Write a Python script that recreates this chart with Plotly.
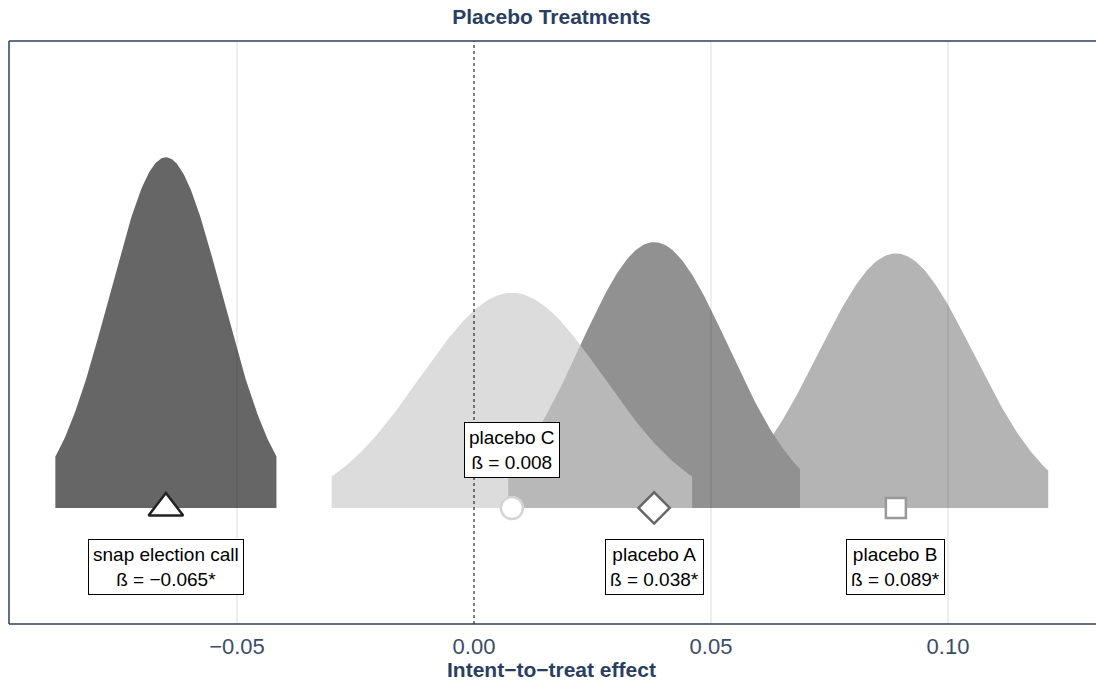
import numpy as np
import plotly.graph_objects as go

# ---- data ----
labels = ["placebo B", "placebo A", "snap election call", "placebo C"]
estimates = [0.089, 0.038, -0.065, 0.008]
std_errors = [0.0164, 0.0157, 0.0119, 0.0194]
stars = ["*", "*", "*", ""]
x_ticks = [-0.05, 0.00, 0.05, 0.10]
x_tick_labels = ["\u22120.05", "0.00", "0.05", "0.10"]

# ---- styles ----
fill_colors = ["#b4b4b4", "#919191", "#666666", "rgba(203,203,203,0.67)"]
marker_symbols = ["square", "diamond", "triangle-up", "circle"]
marker_sizes = [20, 24, 30, 22]
marker_lines = ["#999999", "#666666", "#222222", "#d4d4d4"]
label_y = [-5.6, -5.6, -5.6, 5.5]

TXT = "#2a3f5f"
FONT = "Liberation Sans, Arial"
z = 1.96
W, H = 1096, 683
ML, MR, MT, MB = 9, 2, 41, 59

fig = go.Figure()
for est, se, col in zip(estimates, std_errors, fill_colors):
    lo, hi = est - z * se, est + z * se
    xs = np.linspace(lo, hi, 200)
    ys = np.exp(-0.5 * ((xs - est) / se) ** 2) / (se * np.sqrt(2 * np.pi))
    px = np.concatenate([[lo], xs, [hi, lo]])
    py = np.concatenate([[0], ys, [0, 0]])
    fig.add_trace(go.Scatter(x=px, y=py, mode="lines", fill="toself",
                             fillcolor=col, line=dict(width=0),
                             hoverinfo="skip", showlegend=False))

for est, sym, sz, lc in zip(estimates, marker_symbols, marker_sizes, marker_lines):
    fig.add_trace(go.Scatter(x=[est], y=[0], mode="markers", showlegend=False,
                             marker=dict(symbol=sym, size=sz, color="white",
                                         line=dict(color=lc, width=2.5))))

# gridlines above fills
for t in x_ticks:
    if t == 0:
        continue
    fig.add_shape(type="line", x0=t, x1=t, y0=0, y1=1, xref="x", yref="paper",
                  line=dict(color="rgba(0,0,0,0.09)", width=1.5), layer="above")
# zero reference line
fig.add_shape(type="line", x0=0, x1=0, y0=0, y1=1, xref="x", yref="paper",
              line=dict(color="black", width=1, dash="3px,3px"), layer="above")

# panel border: top, left, bottom (open on the right, running to the page edge)
xr = 1 + MR / (W - ML - MR)
for (x0, y0, x1, y1) in [(0, 1, xr, 1), (0, 0, 0, 1), (0, 0, xr, 0)]:
    fig.add_shape(type="line", x0=x0, y0=y0, x1=x1, y1=y1, xref="paper", yref="paper",
                  line=dict(color=TXT, width=1.5), layer="above")

for lab, est, st, ly in zip(labels, estimates, stars, label_y):
    val = f"{est:.3f}".replace("-", "\u2212")
    fig.add_annotation(x=est, y=ly, xref="x", yref="y",
                       text=f"{lab}<br>\u00df = {val}{st}", showarrow=False,
                       font=dict(family=FONT, size=19, color="black"),
                       bgcolor="white", bordercolor="black", borderwidth=1,
                       borderpad=4, yanchor="middle", xanchor="center")

fig.add_annotation(x=0.5, y=-0.078, xref="paper", yref="paper",
                   text="<b>Intent\u2212to\u2212treat effect</b>", showarrow=False,
                   font=dict(family=FONT, size=21, color=TXT),
                   yanchor="middle")

fig.update_layout(
    width=W, height=H,
    margin=dict(l=ML, r=MR, t=MT, b=MB),
    paper_bgcolor="white", plot_bgcolor="white",
    title=dict(text="<b>Placebo Treatments</b>", x=0.5, xref="paper",
               y=1 - 17 / H, yanchor="middle",
               font=dict(family=FONT, size=21, color=TXT)),
    xaxis=dict(range=[-0.0981, 0.1308], tickvals=x_ticks, ticktext=x_tick_labels,
               showgrid=False, zeroline=False, showline=False, ticks="",
               ticklabelstandoff=7,
               tickfont=dict(family=FONT, size=22, color="#3b4d66")),
    yaxis=dict(range=[-11.09, 44.64], showticklabels=False, showgrid=False,
               zeroline=False, showline=False),
)

fig.write_html("out.html")
